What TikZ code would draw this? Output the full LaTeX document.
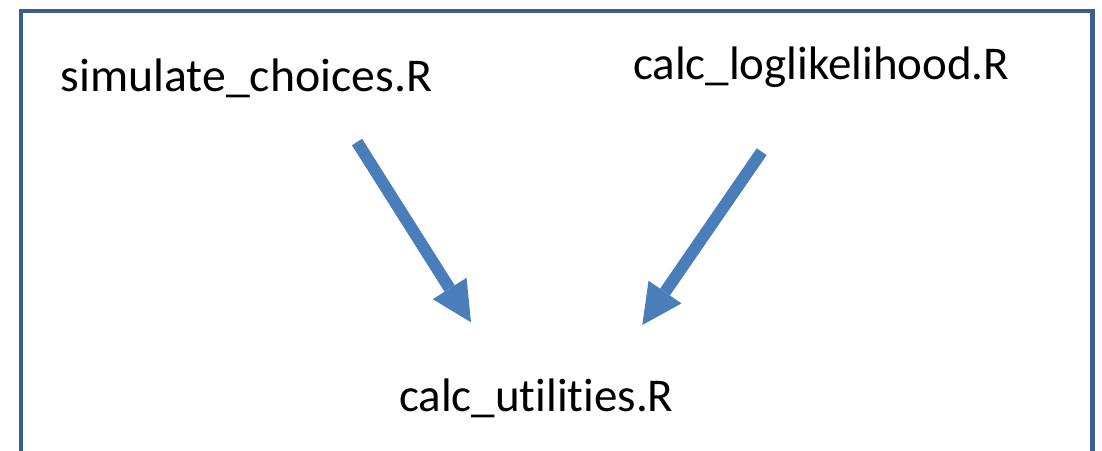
\documentclass[tikz,border=0pt]{standalone}
\usepackage{fontspec}
\setmainfont{Carlito}[Ligatures={NoCommon,NoContextual}]
\usetikzlibrary{arrows.meta}
\definecolor{framecol}{HTML}{3B5E8C}
\definecolor{arrowcol}{HTML}{4A7EBB}
\tikzset{
  label text/.style={anchor=base west, inner sep=0pt, outer sep=0pt,
    font=\fontsize{47}{56}\selectfont, text=black},
  bigarrow/.style={draw=arrowcol, fill=arrowcol, line width=12pt,
    -{Triangle[length=40pt 0 0, width=40pt 0 0, line width=0pt 0 0]}},
  frame/.style={draw=framecol, line width=4.5pt, line join=miter}
}
\begin{document}
\begin{tikzpicture}[x=1pt,y=-1pt]
\useasboundingbox (0,0) rectangle (1102,450);
\clip (0,0) rectangle (1102,450);
\draw[frame] (21,470) -- (21,11) -- (1092.5,11) -- (1092.5,470);
\node[label text] (sim) at (60.5,91.5) {\scalebox{1.017}[1]{simulate\_choices.R}};
\node[label text] (llk) at (633,79.5) {calc\_loglikelihood.R};
\node[label text] (utl) at (399,411.5) {calc\_utilities.R};
\coordinate (a1s) at (357,142);
\coordinate (a1e) at (471,322.3);
\coordinate (a2s) at (761.7,151.7);
\coordinate (a2e) at (642.3,325);
\draw[bigarrow] (a1s) -- (a1e);
\draw[bigarrow] (a2s) -- (a2e);
\end{tikzpicture}
\end{document}
